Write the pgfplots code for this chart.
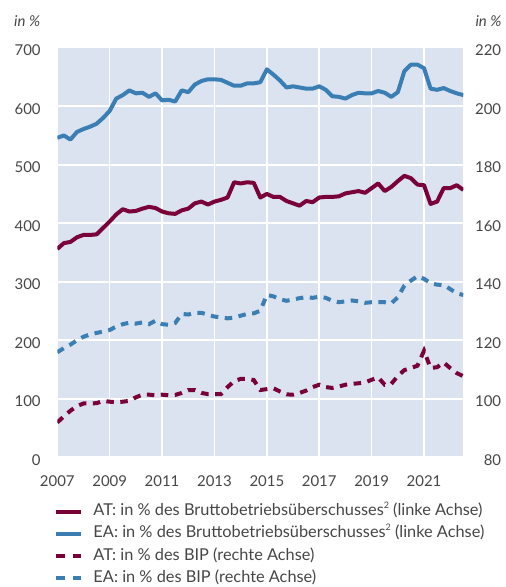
\documentclass[border=0pt]{standalone}
\usepackage{fontspec}
\setmainfont{Lato}
\usepackage{pgfplots}
\pgfplotsset{compat=1.18}
\definecolor{atred}{RGB}{122,0,56}
\definecolor{eablue}{RGB}{58,126,180}
\definecolor{bgblue}{RGB}{218,227,239}
\definecolor{txtgray}{RGB}{70,70,70}
\newcommand{\lblfont}{\fontsize{15}{18}\selectfont}
\newcommand{\legfont}{\fontsize{16.4}{19}\selectfont}
\newcommand{\sq}{\raisebox{0.45em}{\fontsize{9}{10}\selectfont 2}}
\pgfplotsset{
  common/.style={
    at={(57.3bp,129.7bp)}, anchor=south west, scale only axis,
    width=406bp, height=409.6bp, xmin=2007, xmax=2022.5,
    axis line style={draw=none}, tick style={draw=none}, major tick length=0pt,
    /pgf/number format/assume math mode=true,
    /pgf/number format/1000 sep={},
    tick label style={font=\lblfont, text=txtgray, inner sep=0pt},
  }
}
\begin{document}
\begin{tikzpicture}[x=1bp,y=1bp]
\useasboundingbox (0,0) rectangle (506,587);
\begin{axis}[common,
  ymin=0, ymax=700, ytick={0,100,...,700},
  xtick={2007,2009,...,2021},
  axis background/.style={fill=bgblue},
  grid=major, grid style={white, line width=1.6bp},
  yticklabel style={anchor=east, xshift=-16.5bp, yshift=-2.5bp},
  xticklabel style={anchor=north, yshift=-18bp},
  legend cell align=left,
  legend image code/.code={\draw[#1] (0bp,0bp) -- (24bp,0bp);},
  legend style={at={(0,0)}, anchor=north west, xshift=-3bp, yshift=-46.5bp,
    draw=none, fill=none, inner sep=0pt, row sep=7.2bp,
    font=\legfont, text=txtgray,
    nodes={inner sep=0pt, text height=11.5bp, text depth=3.6bp},
    /tikz/every odd column/.append style={column sep=11bp}},
]
\addplot[atred, line width=4bp, line join=round] coordinates {
(2007.00,356) (2007.25,366) (2007.50,368) (2007.75,376) (2008.00,380) (2008.25,380) (2008.50,381) (2008.75,392)
(2009.00,403) (2009.25,415) (2009.50,424) (2009.75,420) (2010.00,421) (2010.25,425) (2010.50,428) (2010.75,426)
(2011.00,420) (2011.25,417) (2011.50,416) (2011.75,422) (2012.00,425) (2012.25,434) (2012.50,437) (2012.75,432)
(2013.00,437) (2013.25,440) (2013.50,444) (2013.75,470) (2014.00,468) (2014.25,470) (2014.50,469) (2014.75,444)
(2015.00,450) (2015.25,445) (2015.50,445) (2015.75,438) (2016.00,434) (2016.25,430) (2016.50,438) (2016.75,436)
(2017.00,444) (2017.25,445) (2017.50,445) (2017.75,446) (2018.00,451) (2018.25,453) (2018.50,455) (2018.75,452)
(2019.00,460) (2019.25,468) (2019.50,455) (2019.75,462) (2020.00,472) (2020.25,481) (2020.50,477) (2020.75,466)
(2021.00,465) (2021.25,433) (2021.50,437) (2021.75,460) (2022.00,460) (2022.25,465) (2022.50,457)
};
\addlegendentry{AT: in \% des Bruttobetriebsüberschusses\sq{} (linke Achse)}
\addplot[eablue, line width=4bp, line join=round] coordinates {
(2007.00,546) (2007.25,550) (2007.50,543) (2007.75,556) (2008.00,561) (2008.25,565) (2008.50,570) (2008.75,580)
(2009.00,592) (2009.25,613) (2009.50,619) (2009.75,627) (2010.00,622) (2010.25,623) (2010.50,616) (2010.75,622)
(2011.00,610) (2011.25,611) (2011.50,608) (2011.75,627) (2012.00,624) (2012.25,637) (2012.50,643) (2012.75,646)
(2013.00,646) (2013.25,645) (2013.50,640) (2013.75,635) (2014.00,635) (2014.25,639) (2014.50,639) (2014.75,641)
(2015.00,663) (2015.25,654) (2015.50,644) (2015.75,632) (2016.00,634) (2016.25,632) (2016.50,630) (2016.75,630)
(2017.00,634) (2017.25,628) (2017.50,617) (2017.75,616) (2018.00,613) (2018.25,619) (2018.50,623) (2018.75,622)
(2019.00,622) (2019.25,626) (2019.50,623) (2019.75,616) (2020.00,624) (2020.25,660) (2020.50,671) (2020.75,671)
(2021.00,665) (2021.25,630) (2021.50,628) (2021.75,631) (2022.00,626) (2022.25,622) (2022.50,619)
};
\addlegendentry{EA: in \% des Bruttobetriebsüberschusses\sq{} (linke Achse)}
\addlegendimage{atred, line width=4bp, dash pattern=on 8bp off 8bp}
\addlegendentry{AT: in \% des BIP (rechte Achse)}
\addlegendimage{eablue, line width=4bp, dash pattern=on 8bp off 8bp}
\addlegendentry{EA: in \% des BIP (rechte Achse)}
\end{axis}
\begin{axis}[common,
  ymin=80, ymax=220, ytick={80,100,...,220},
  axis y line*=right, hide x axis,
  yticklabel style={anchor=east, xshift=38bp, yshift=-2.5bp},
]
\addplot[atred, line width=4bp, dash pattern=on 7.5bp off 6.5bp] coordinates {
(2007.00,91.9) (2007.25,94.0) (2007.50,95.9) (2007.75,97.5) (2008.00,98.4) (2008.25,98.4) (2008.50,98.5) (2008.75,99.3)
(2009.00,99.0) (2009.25,98.8) (2009.50,99.0) (2009.75,99.3) (2010.00,100.5) (2010.25,101.4) (2010.50,101.4) (2010.75,101.2)
(2011.00,101.4) (2011.25,101.2) (2011.50,101.3) (2011.75,102.0) (2012.00,103.0) (2012.25,103.0) (2012.50,102.0) (2012.75,101.6)
(2013.00,101.6) (2013.25,101.6) (2013.50,104.0) (2013.75,106.0) (2014.00,106.8) (2014.25,106.8) (2014.50,106.4) (2014.75,103.0)
(2015.00,103.3) (2015.25,103.6) (2015.50,102.5) (2015.75,101.5) (2016.00,101.4) (2016.25,102.0) (2016.50,102.8) (2016.75,104.0)
(2017.00,104.8) (2017.25,104.0) (2017.50,103.7) (2017.75,104.2) (2018.00,104.8) (2018.25,105.1) (2018.50,105.3) (2018.75,105.6)
(2019.00,106.5) (2019.25,107.3) (2019.50,104.8) (2019.75,105.1) (2020.00,107.8) (2020.25,109.8) (2020.50,110.5) (2020.75,111.3)
(2021.00,116.4) (2021.25,110.5) (2021.50,110.8) (2021.75,112.4) (2022.00,110.5) (2022.25,108.8) (2022.50,107.7)
};
\addplot[eablue, line width=4bp, dash pattern=on 7.5bp off 6.5bp] coordinates {
(2007.00,115.9) (2007.25,117.3) (2007.50,118.5) (2007.75,120.0) (2008.00,121.2) (2008.25,122.0) (2008.50,122.5) (2008.75,123.0)
(2009.00,123.5) (2009.25,124.7) (2009.50,125.5) (2009.75,126.0) (2010.00,125.7) (2010.25,126.1) (2010.50,125.5) (2010.75,126.7)
(2011.00,125.5) (2011.25,125.3) (2011.50,125.9) (2011.75,129.0) (2012.00,128.8) (2012.25,129.4) (2012.50,129.4) (2012.75,128.7)
(2013.00,128.1) (2013.25,127.8) (2013.50,127.5) (2013.75,127.7) (2014.00,128.4) (2014.25,129.0) (2014.50,129.2) (2014.75,130.1)
(2015.00,135.5) (2015.25,135.0) (2015.50,134.0) (2015.75,133.5) (2016.00,133.9) (2016.25,134.4) (2016.50,134.7) (2016.75,134.5)
(2017.00,134.9) (2017.25,134.5) (2017.50,133.5) (2017.75,133.0) (2018.00,133.3) (2018.25,133.6) (2018.50,133.3) (2018.75,132.8)
(2019.00,133.0) (2019.25,133.0) (2019.50,133.0) (2019.75,132.6) (2020.00,134.7) (2020.25,138.7) (2020.50,140.4) (2020.75,141.9)
(2021.00,141.0) (2021.25,139.5) (2021.50,139.0) (2021.75,138.9) (2022.00,137.5) (2022.25,136.0) (2022.50,135.5)
};
\end{axis}
\node[anchor=west, inner sep=0pt, font=\itshape\lblfont, text=txtgray] at (14,566) {in \%};
\node[anchor=east, inner sep=0pt, font=\itshape\lblfont, text=txtgray] at (501.7,566) {in \%};
\end{tikzpicture}
\end{document}
